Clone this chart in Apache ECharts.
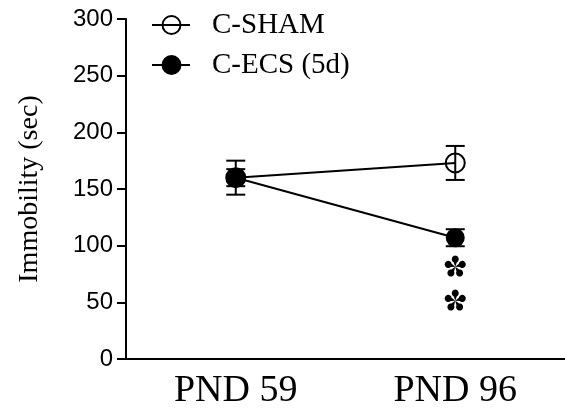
<!DOCTYPE html>
<html>
<head>
<meta charset="utf-8">
<script src="https://cdn.jsdelivr.net/npm/echarts@6/dist/echarts.min.js"></script>
<style>
  html, body { margin: 0; padding: 0; background: #fff; }
  #chart { width: 565px; height: 410px; }
</style>
</head>
<body>
<div id="chart"></div>
<script>
// Forced swim test: immobility time per group at two postnatal days
const categories = ['PND 59', 'PND 96'];
const seriesNames = ['C-SHAM', 'C-ECS (5d)'];
const shamMean = [160, 173];
const shamSem = [15, 15];
const ecsMean = [160, 107];
const ecsSem = [7.5, 7.5];
const yTicks = { min: 0, max: 300, interval: 50 };
// significance markers drawn under PND 96 for C-ECS
const sigMarks = [[1, 82], [1, 52]];

const serif = '"Liberation Serif", "Times New Roman", serif';
const sans = '"Liberation Sans", Arial, sans-serif';

// five teardrop petals on thin stems, one pointing straight up
function petalAsteriskPath() {
  const parts = [];
  const alpha = 28 * Math.PI / 180;
  const c = 0.68, r = 0.32, steps = 28;
  for (let k = 0; k < 5; k++) {
    const th = -Math.PI / 2 + k * 2 * Math.PI / 5;
    const bx = c * Math.cos(th), by = c * Math.sin(th);
    let d = 'M0 0';
    for (let s = 0; s <= steps; s++) {
      const phi = th - (Math.PI - alpha) + (s / steps) * 2 * (Math.PI - alpha);
      d += ' L' + (bx + r * Math.cos(phi)).toFixed(4) + ' ' + (by + r * Math.sin(phi)).toFixed(4);
    }
    parts.push(d + ' Z');
  }
  return 'path://' + parts.join(' ');
}

function errorData(mean, sem) {
  return mean.map((m, i) => [i, m - sem[i], m + sem[i]]);
}

function errorBarRender(params, api) {
  const lo = api.coord([api.value(0), api.value(1)]);
  const hi = api.coord([api.value(0), api.value(2)]);
  const half = 9.5;
  const style = { stroke: '#000', lineWidth: 2, fill: 'none' };
  return {
    type: 'group',
    children: [
      { type: 'line', shape: { x1: lo[0], y1: lo[1], x2: hi[0], y2: hi[1] }, style },
      { type: 'line', shape: { x1: lo[0] - half, y1: lo[1], x2: lo[0] + half, y2: lo[1] }, style },
      { type: 'line', shape: { x1: hi[0] - half, y1: hi[1], x2: hi[0] + half, y2: hi[1] }, style }
    ]
  };
}

const chart = echarts.init(document.getElementById('chart'), null, { renderer: 'canvas' });

function legendItem(y, filled, name) {
  return [
    { type: 'line', shape: { x1: 152, y1: y, x2: 190, y2: y }, style: { stroke: '#000', lineWidth: 2 } },
    { type: 'circle', shape: { cx: 171.5, cy: y, r: 9 },
      style: { fill: filled ? '#000' : 'rgba(0,0,0,0)', stroke: '#000', lineWidth: 2 } },
    { type: 'text', x: 212, y: y,
      style: { text: name, font: '29px ' + serif, fill: '#000', verticalAlign: 'middle', textAlign: 'left' } }
  ];
}

chart.setOption({
  animation: false,
  backgroundColor: '#fff',
  grid: { left: 126, top: 19, width: 442, height: 340 },
  xAxis: {
    type: 'category',
    data: categories,
    boundaryGap: true,
    axisLine: { lineStyle: { color: '#000', width: 2 } },
    axisTick: { alignWithLabel: true, length: 8, lineStyle: { color: '#000', width: 2 } },
    axisLabel: { color: '#000', fontFamily: serif, fontSize: 38, margin: 13 },
    splitLine: { show: false }
  },
  yAxis: {
    type: 'value',
    min: yTicks.min,
    max: yTicks.max,
    interval: yTicks.interval,
    name: 'Immobility (sec)',
    nameLocation: 'middle',
    nameGap: 82,
    nameTextStyle: { color: '#000', fontFamily: serif, fontSize: 28 },
    axisLine: { show: true, lineStyle: { color: '#000', width: 2 } },
    axisTick: { show: true, length: 9, lineStyle: { color: '#000', width: 2 } },
    axisLabel: { color: '#000', fontFamily: sans, fontSize: 24, margin: 13 },
    splitLine: { show: false }
  },
  graphic: [].concat(
    legendItem(25, false, seriesNames[0]),
    legendItem(65, true, seriesNames[1])
  ),
  series: [
    {
      type: 'custom',
      name: seriesNames[0] + ' SEM',
      renderItem: errorBarRender,
      data: errorData(shamMean, shamSem),
      z: 2
    },
    {
      type: 'line',
      name: seriesNames[0],
      data: shamMean,
      symbol: 'circle',
      symbolSize: 19,
      lineStyle: { color: '#000', width: 2 },
      itemStyle: { color: 'rgba(0,0,0,0)', borderColor: '#000', borderWidth: 2 },
      z: 3
    },
    {
      type: 'custom',
      name: seriesNames[1] + ' SEM',
      renderItem: errorBarRender,
      data: errorData(ecsMean, ecsSem),
      z: 4
    },
    {
      type: 'line',
      name: seriesNames[1],
      data: ecsMean,
      symbol: 'circle',
      symbolSize: 19,
      lineStyle: { color: '#000', width: 2 },
      itemStyle: { color: '#000', borderColor: '#000', borderWidth: 0 },
      z: 5
    },
    {
      type: 'scatter',
      name: 'significance',
      data: sigMarks,
      symbol: petalAsteriskPath(),
      symbolSize: [21, 21],
      silent: true,
      itemStyle: { color: '#000', opacity: 1 },
      z: 6
    }
  ]
});
</script>
</body>
</html>
